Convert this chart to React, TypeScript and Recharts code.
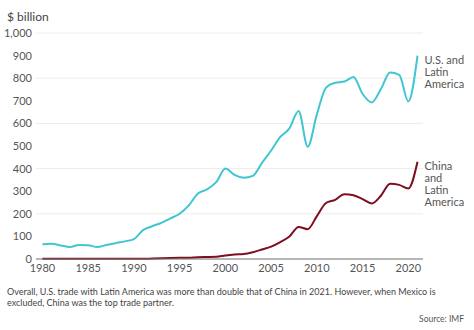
import React from 'react';
import { LineChart, Line, XAxis, YAxis, CartesianGrid } from 'recharts';

const years = [
  1980, 1981, 1982, 1983, 1984, 1985, 1986, 1987, 1988, 1989,
  1990, 1991, 1992, 1993, 1994, 1995, 1996, 1997, 1998, 1999,
  2000, 2001, 2002, 2003, 2004, 2005, 2006, 2007, 2008, 2009,
  2010, 2011, 2012, 2013, 2014, 2015, 2016, 2017, 2018, 2019,
  2020, 2021,
];

const usLatam = [
  65, 67, 60, 53, 62, 61, 53, 62, 70, 78,
  88, 128, 145, 160, 180, 200, 237, 290, 308, 340,
  400, 372, 360, 368, 425, 480, 540, 578, 655, 497,
  640, 758, 780, 785, 805, 730, 693, 752, 825, 815,
  697, 900,
];

const chinaLatam = [
  1, 1, 1, 1, 1, 1, 1, 1, 1, 1,
  1, 1, 2, 3, 4, 5, 6, 8, 9, 10,
  16, 20, 22, 30, 42, 55, 75, 100, 142, 132,
  190, 248, 262, 287, 282, 265, 246, 280, 333, 328,
  312, 430,
];

const xTicks = [1980, 1985, 1990, 1995, 2000, 2005, 2010, 2015, 2020];
const yTicks = [0, 100, 200, 300, 400, 500, 600, 700, 800, 900, 1000];

const usLabel = ['U.S. and', 'Latin', 'America'];
const chinaLabel = ['China', 'and', 'Latin', 'America'];

const FONT = 'Lato, "Noto Sans", sans-serif';

const data = years.map((year, i) => ({
  year,
  us: usLatam[i],
  china: chinaLatam[i],
}));

// label drawn beside the last point of a series
const endLabel = (lines: string[]) => (props: any) => {
  const { x, y, index } = props;
  if (index !== years.length - 1) return null;
  return (
    <text x={x + 7} y={y + 8} fill="#555" fontSize={11} fontFamily={FONT}>
      {lines.map((l, i) => (
        <tspan key={i} x={x + 7} dy={i === 0 ? 0 : 12}>{l}</tspan>
      ))}
    </text>
  );
};

export default function App() {
  return (
    <div style={{ position: 'absolute', left: 0, top: 0, width: 474, height: 330, background: '#fff', fontFamily: FONT }}>
      <div style={{ position: 'absolute', left: 7, top: 9, fontSize: 12, color: '#444' }}>$ billion</div>
      <LineChart width={474} height={330} data={data} margin={{ top: 33, right: 51, bottom: 51, left: 0 }}>
        <CartesianGrid vertical={false} stroke="#ececec" />
        <XAxis
          dataKey="year"
          type="number"
          domain={[1979.3, 2021.6]}
          ticks={xTicks}
          allowDataOverflow
          tickLine={false}
          tickSize={0}
          tickMargin={5}
          stroke="#777"
          height={20}
          tick={{ fill: '#555', fontSize: 11, fontFamily: FONT }}
        />
        <YAxis
          type="number"
          domain={[0, 1000]}
          ticks={yTicks}
          axisLine={false}
          tickLine={false}
          tickSize={0}
          tickMargin={4}
          width={36}
          tickFormatter={(v: number) => v.toLocaleString('en-US')}
          tick={{ fill: '#555', fontSize: 11, fontFamily: FONT }}
        />
        <Line
          type="monotone"
          dataKey="us"
          stroke="#3fc6d0"
          strokeWidth={2}
          dot={false}
          isAnimationActive={false}
          label={endLabel(usLabel)}
        />
        <Line
          type="monotone"
          dataKey="china"
          stroke="#7d0f1f"
          strokeWidth={2}
          dot={false}
          isAnimationActive={false}
          label={endLabel(chinaLabel)}
        />
      </LineChart>
      <div style={{ position: 'absolute', left: 7, top: 287, width: 465, fontSize: 9, lineHeight: '10.5px', color: '#444' }}>
        Overall, U.S. trade with Latin America was more than double that of China in 2021. However, when Mexico is excluded, China was the top trade partner.
      </div>
      <div style={{ position: 'absolute', right: 10, top: 314, fontSize: 8.5, color: '#555' }}>Source: IMF</div>
    </div>
  );
}
